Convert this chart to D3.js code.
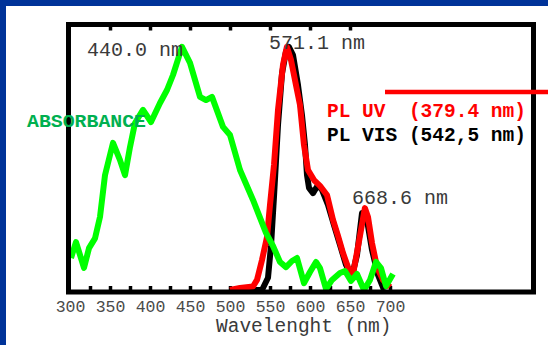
<!DOCTYPE html>
<html>
<head>
<meta charset="utf-8">
<script src="https://cdn.jsdelivr.net/npm/d3@7"></script>
<style>
  html, body { margin: 0; padding: 0; background: #fff; }
  svg { display: block; }
</style>
</head>
<body>
<svg id="chart" width="548" height="345"></svg>
<script>
// Absorbance spectrum (a.u., normalised to ~100 at the 440 nm maximum)
const absWavelength = [301.25, 307.5, 317.5, 323.75, 331.25, 337.5, 343.75, 353.75, 362.5, 368.75,
  375, 381.25, 391.25, 401.25, 412.5, 421.25, 428.75, 440, 450, 462.5,
  470, 477.5, 491.25, 500, 512.5, 528.75, 545, 553.75, 562.5, 570,
  577.5, 583.75, 592.5, 600, 607.5, 612.5, 620, 627.5, 637.5, 643.75,
  651.25, 658.75, 667.5, 675, 682.5, 688.75, 695, 703.75];
const absorbance = [13, 19.5, 9, 17, 21, 29.7, 46.7, 59.8, 52.8, 46.7,
  58.1, 67.9, 73.2, 68.3, 76, 81.3, 87.4, 98.8, 92.3, 78.5,
  77.2, 78.5, 66.3, 63, 48.8, 36.6, 23.2, 17.9, 11.4, 9.3,
  11.8, 13, 2.8, 7.3, 11.4, 8.9, 0.4, 4.1, 6.9, 7.7,
  3.7, 6.5, 0, 4.1, 11.4, 8.9, 1.6, 6.5];

// Photoluminescence, UV excitation (379.4 nm)
const plUvWavelength = [500, 512.5, 528.75, 533.75, 540, 546.25, 550, 555, 560, 566.25,
  571.1, 576.25, 582.5, 587.5, 592.5, 597.5, 605, 612.5, 621.25, 628.75,
  635, 641.25, 648.75, 653.75, 660, 668.6, 672.5, 677.5, 683.75, 691.25, 700];
const plUv = [0, 0.8, 1.4, 4.1, 12.2, 21.5, 34.6, 50.8, 73.2, 91.5,
  98.8, 93.5, 83.3, 75.2, 58.9, 48.8, 44.7, 42.3, 38.6, 28.5,
  22, 15, 8.1, 6.5, 17.5, 33.3, 29.7, 19.1, 9.3, 4.1, 1.2];

// Photoluminescence, visible excitation (542.5 nm)
const plVisWavelength = [500, 540, 547.5, 551.25, 555, 560, 565, 570, 573.75, 578.75,
  585, 590, 593.75, 596.25, 598.75, 603.75, 610, 615, 622.5, 630,
  637.5, 645, 652.5, 658.75, 665, 671.25, 677.5, 685, 692.5];
const plVis = [0, 0, 5, 18, 38, 67, 88, 97, 98.8, 95.5,
  83.3, 71, 58.9, 46.7, 41.5, 39.4, 42.7, 40.7, 34.6, 26.4,
  18.3, 10.2, 5.7, 14.2, 31.3, 28.5, 16.3, 6.1, 0];

// Axis ticks and annotations
const tickLabels = [300, 350, 400, 450, 500, 550, 600, 650, 700];
const bottomTicks = [325, 350, 375, 400, 425, 450, 475, 500, 525, 550, 575, 600, 625, 650, 675, 700];
const topTicks = [350, 400, 450, 500, 550, 600, 650];
const peakLabels = ["440.0 nm", "571.1 nm", "668.6 nm"];
const legendLabels = ["PL UV  (379.4 nm)", "PL VIS (542,5 nm)"];
const absLabel = "ABSORBANCE";
const xTitle = "Wavelenght (nm)";

const svg = d3.select("#chart");
const mono = "'Liberation Mono', 'Courier New', monospace";

// page frame: blue bands along the top and left edges
svg.append("rect").attr("x", 0).attr("y", 0).attr("width", 548).attr("height", 6).attr("fill", "#003399");
svg.append("rect").attr("x", 0).attr("y", 0).attr("width", 6).attr("height", 345).attr("fill", "#003399");

const frame = { left: 68.5, right: 533.5, top: 24.5, bottom: 292 };

const x = d3.scaleLinear().domain([300, 700]).range([70, 390]);
const y = d3.scaleLinear().domain([0, 100]).range([290, 44]);

// inner tick marks on the bottom and top edges
svg.append("g")
  .attr("transform", `translate(0,${frame.bottom - 2})`)
  .call(d3.axisBottom(x).tickValues(bottomTicks).tickSize(-4).tickFormat(""))
  .call(g => g.select(".domain").remove())
  .call(g => g.selectAll(".tick line").attr("stroke", "#000").attr("stroke-width", 3.5));

svg.append("g")
  .attr("transform", `translate(0,${frame.top + 2})`)
  .call(d3.axisTop(x).tickValues(topTicks).tickSize(-4).tickFormat(""))
  .call(g => g.select(".domain").remove())
  .call(g => g.selectAll(".tick line").attr("stroke", "#000").attr("stroke-width", 3.5));

// tick labels
svg.append("g")
  .attr("transform", "translate(0,300)")
  .call(d3.axisBottom(x).tickValues(tickLabels).tickSize(0).tickFormat(d3.format("d")))
  .call(g => g.select(".domain").remove())
  .call(g => g.selectAll(".tick text")
    .attr("y", 12).attr("dy", 0)
    .attr("font-family", mono).attr("font-size", 16.5).attr("fill", "#4a4a4a"));

// curves
const line = (xs, ys) => d3.line()
  .x((d, i) => x(xs[i]))
  .y((d, i) => y(ys[i]))(xs);

svg.append("path").attr("d", line(plVisWavelength, plVis))
  .attr("fill", "none").attr("stroke", "#000").attr("stroke-width", 6).attr("stroke-linejoin", "round");
svg.append("path").attr("d", line(plUvWavelength, plUv))
  .attr("fill", "none").attr("stroke", "#ff0000").attr("stroke-width", 6).attr("stroke-linejoin", "round");
svg.append("path").attr("d", line(absWavelength, absorbance))
  .attr("fill", "none").attr("stroke", "#00ff00").attr("stroke-width", 6).attr("stroke-linejoin", "round");

// plot frame
svg.append("rect")
  .attr("x", frame.left).attr("y", frame.top)
  .attr("width", frame.right - frame.left).attr("height", frame.bottom - frame.top)
  .attr("fill", "none").attr("stroke", "#000").attr("stroke-width", 5);

// peak annotations
const peakPos = [[87, 56], [269, 49], [352, 204]];
svg.selectAll("text.peak").data(peakLabels).join("text")
  .attr("class", "peak")
  .attr("x", (d, i) => peakPos[i][0]).attr("y", (d, i) => peakPos[i][1])
  .attr("font-family", mono).attr("font-size", 20).attr("fill", "#3a3a3a")
  .text(d => d);

// series labels
svg.append("text").attr("x", 27).attr("y", 127)
  .attr("font-family", mono).attr("font-size", 18).attr("font-weight", "bold")
  .attr("textLength", 119).attr("lengthAdjust", "spacingAndGlyphs")
  .attr("fill", "#00b050").text(absLabel);

svg.append("line").attr("x1", 385).attr("x2", 548).attr("y1", 92).attr("y2", 92)
  .attr("stroke", "#ff0000").attr("stroke-width", 4.5);

const legendColors = ["#ff0000", "#000000"];
const legendY = [116.5, 141];
svg.selectAll("text.legend").data(legendLabels).join("text")
  .attr("class", "legend")
  .attr("x", 327).attr("y", (d, i) => legendY[i])
  .attr("xml:space", "preserve").style("white-space", "pre")
  .attr("font-family", mono).attr("font-size", 19.5).attr("font-weight", "bold")
  .attr("fill", (d, i) => legendColors[i])
  .text(d => d);

// x-axis title
svg.append("text").attr("x", 216).attr("y", 332)
  .attr("font-family", mono).attr("font-size", 19.5).attr("fill", "#3a3a3a")
  .text(xTitle);
</script>
</body>
</html>
